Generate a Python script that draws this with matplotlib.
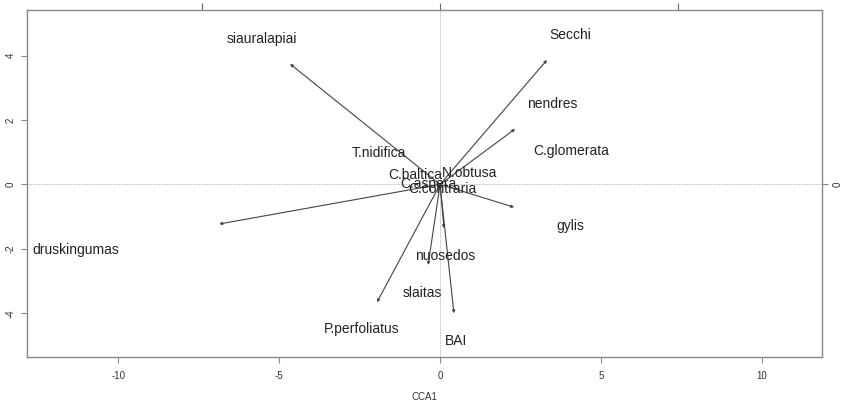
import matplotlib
matplotlib.use("Agg")
import matplotlib.pyplot as plt

# environmental vectors (arrow tips in CCA1/CCA2 units)
arrow_x = [-4.66, 3.32, 2.33, 2.30, -6.86, 0.12, -0.37, -1.96, 0.43]
arrow_y = [3.74, 3.86, 1.72, -0.71, -1.23, -1.36, -2.50, -3.66, -4.00]

# text labels: variables and species
labels = ['siauralapiai', 'Secchi', 'nendres', 'druskingumas', 'gylis',
          'nuosedos', 'slaitas', 'BAI',
          'T.nidifica', 'C.baltica', 'N.obtusa', 'C.aspera', 'C.contraria',
          'P.perfoliatus', 'C.glomerata']
label_x = [-5.53, 4.04, 3.48, -11.3, 4.04, 0.16, -0.56, 0.50,
           -1.89, -0.78, 0.93, -0.37, 0.06, -2.42, 4.07]
label_y = [4.51, 4.64, 2.49, -2.04, -1.29, -2.23, -3.37, -4.86,
           0.97, 0.29, 0.35, 0.00, -0.15, -4.49, 1.03]

x_ticks = [-10, -5, 0, 5, 10]
y_ticks = [-4, -2, 0, 2, 4]
top_ticks = [-7.4, 0, 7.4]
right_ticks = [0]

plt.rcParams['font.family'] = ['Liberation Sans', 'DejaVu Sans']
plt.rcParams['axes.unicode_minus'] = False

fig = plt.figure(figsize=(8.43, 4.03), dpi=100)
ax = fig.add_axes([0.032, 0.114, 0.943, 0.861])
ax.set_xlim(-12.83, 11.86)
ax.set_ylim(-5.36, 5.41)

ax.axhline(0, color='#aaaaaa', linestyle=(0, (1, 1)), linewidth=0.6, zorder=1)
ax.axvline(0, color='#aaaaaa', linestyle=(0, (1, 1)), linewidth=0.6, zorder=1)

for x, y in zip(arrow_x, arrow_y):
    ax.annotate('', xy=(x, y), xytext=(0, 0),
                arrowprops=dict(arrowstyle='-|>', color='#444444', lw=0.8,
                                mutation_scale=4, shrinkA=0, shrinkB=0),
                zorder=2)

for t, x, y in zip(labels, label_x, label_y):
    ax.text(x, y, t, ha='center', va='center', fontsize=10, color='#222222', zorder=3)

for s in ax.spines.values():
    s.set_color('#888888')
    s.set_linewidth(1.0)

ax.set_xticks(x_ticks)
ax.set_yticks(y_ticks)
ax.set_yticklabels([str(v) for v in y_ticks], rotation=90, va='center')
ax.tick_params(axis='both', direction='out', length=4, width=0.8, color='#888888',
               labelsize=7, labelcolor='#333333', pad=6)
ax.tick_params(axis='y', pad=4)
ax.set_xlabel('CCA1', fontsize=7, color='#333333', labelpad=8)

top = ax.secondary_xaxis('top')
top.set_xticks(top_ticks)
top.set_xticklabels([])
top.tick_params(direction='out', length=5, width=0.8, color='#666666')
top.spines['top'].set_visible(False)

right = ax.secondary_yaxis('right')
right.set_yticks(right_ticks)
right.set_yticklabels(['0'], rotation=90, va='center')
right.tick_params(direction='out', length=4, width=0.8, color='#888888',
                  labelsize=7, labelcolor='#333333', pad=4)
right.spines['right'].set_visible(False)

fig.savefig('out.png', dpi=100)
